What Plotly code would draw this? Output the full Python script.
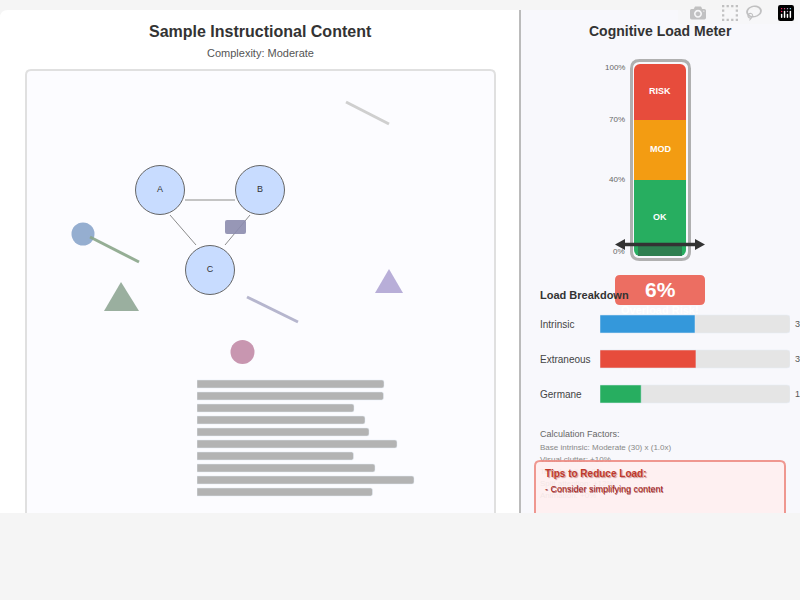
import plotly.graph_objects as go

FONT = 'Liberation Sans'

# text bars under the diagram (lengths in px on their own axis)
text_rows = list(range(1, 11))
text_widths = [187, 186.5, 157, 168, 172, 200, 156.5, 178, 217, 175.5]

# diagram
node_names = ['A', 'B', 'C']
node_x = [160, 260, 210]
node_y = [190, 190, 270]

# meter
zone_names = ['OK', 'MOD', 'RISK']
zone_sizes = [39.6, 31.2, 29.2]
zone_colors = ['#27ae60', '#f39c12', '#e74c3c']
meter_ticks = ['100%', '70%', '40%', '0%']
load_value = 6

# load breakdown
load_names = ['Intrinsic', 'Extraneous', 'Germane']
load_values = [30, 30.3, 13]
load_labels = ['30', '30', '13']
load_colors = ['#3498db', '#e74c3c', '#27ae60']
load_max = 60

factor_lines = ['Base intrinsic: Moderate (30) x (1.0x)', 'Visual clutter: +10%', 'Text density: +8%',
                'Split attention: +12%', 'Animation: +0%']


def ydom(top, bottom):
    return [1 - bottom / 600, 1 - top / 600]


def round_rect(x0, y0, x1, y1, r, tl=True, tr=True, br=True, bl=True):
    p = f'M {x0 + (r if tl else 0)} {y0} L {x1 - (r if tr else 0)} {y0} '
    if tr:
        p += f'Q {x1} {y0} {x1} {y0 + r} '
    p += f'L {x1} {y1 - (r if br else 0)} '
    if br:
        p += f'Q {x1} {y1} {x1 - r} {y1} '
    p += f'L {x0 + (r if bl else 0)} {y1} '
    if bl:
        p += f'Q {x0} {y1} {x0} {y1 - r} '
    p += f'L {x0} {y0 + (r if tl else 0)} '
    if tl:
        p += f'Q {x0} {y0} {x0 + r} {y0} '
    return p + 'Z'


fig = go.Figure()


def page_line(x, y, color, width):
    fig.add_trace(go.Scatter(x=x, y=y, mode='lines', line=dict(color=color, width=width),
                             hoverinfo='skip', xaxis='x', yaxis='y'))


def page_dot(x, y, size, color):
    fig.add_trace(go.Scatter(x=[x], y=[y], mode='markers', marker=dict(size=size, color=color, line=dict(width=0)),
                             hoverinfo='skip', xaxis='x', yaxis='y'))


def label(x, y, text, size, color, bold=False, anchor='left', shadow=None):
    fig.add_annotation(x=x, y=y, xref='x', yref='y', text=f'<b>{text}</b>' if bold else text, showarrow=False,
                       xanchor=anchor, yanchor='middle', borderpad=0, borderwidth=0,
                       font=dict(family=FONT, size=size, color=color, shadow=shadow or 'none'))


# edges + decorations
page_line([346, 389], [102, 124], '#cfcfcf', 3)
page_line([185, 235], [200, 200], '#c4c4c4', 2)
page_line([170, 196], [215, 245], '#8c8c8c', 1)
page_line([250, 225], [215, 245], '#8c8c8c', 1)
page_line([247, 298], [297, 322], '#b6b6ce', 3)
page_dot(83, 234, 23, '#95aed0')
page_line([90, 139], [237, 262], 'rgba(138,165,138,0.9)', 3)
page_dot(242.5, 352, 24, '#c896b0')

fig.add_trace(go.Scatter(x=[121, 139, 104, 121], y=[282, 311, 311, 282], mode='lines', fill='toself',
                         fillcolor='#9aaf9f', line=dict(width=0), hoverinfo='skip', xaxis='x', yaxis='y'))
fig.add_trace(go.Scatter(x=[389, 403, 375, 389], y=[269, 293, 293, 269], mode='lines', fill='toself',
                         fillcolor='#b8aed8', line=dict(width=0), hoverinfo='skip', xaxis='x', yaxis='y'))

fig.add_trace(go.Scatter(x=node_x, y=node_y, mode='markers+text', text=node_names, textposition='middle center',
                         textfont=dict(family=FONT, size=9, color='#333333'),
                         marker=dict(size=49, color='#c8dcff', line=dict(color='#666666', width=1)),
                         hoverinfo='skip', xaxis='x', yaxis='y'))

# text lines
fig.add_trace(go.Bar(x=text_widths, y=text_rows, orientation='h', width=8 / 12, marker=dict(color='#b3b3b3', cornerradius=2),
                     hoverinfo='skip', xaxis='x4', yaxis='y4'))

# meter zones; the two rounded end zones get a square bar behind so only the outer corners show round
base = 0
for name, size, color in zip(zone_names, zone_sizes, zone_colors):
    if name == 'OK':
        fig.add_trace(go.Bar(x=[0.5], y=[size / 2], base=[base + size / 2], width=52 / 90,
                             marker=dict(color=color, line=dict(width=0)), hoverinfo='skip', xaxis='x2', yaxis='y2'))
    if name == 'RISK':
        fig.add_trace(go.Bar(x=[0.5], y=[size / 2], base=[base], width=52 / 90,
                             marker=dict(color=color, line=dict(width=0)), hoverinfo='skip', xaxis='x2', yaxis='y2'))
    fig.add_trace(go.Bar(x=[0.5], y=[size], base=[base], width=52 / 90,
                         marker=dict(color=color, line=dict(width=0), cornerradius=0 if name == 'MOD' else 6),
                         hoverinfo='skip', xaxis='x2', yaxis='y2'))
    base += size
fig.add_trace(go.Bar(x=[0.5], y=[load_value], width=44 / 90, marker=dict(color='#2e7f50', line=dict(width=0)),
                     hoverinfo='skip', xaxis='x2', yaxis='y2'))
fig.add_trace(go.Scatter(x=[0.06, 0.94], y=[load_value, load_value], mode='lines', line=dict(color='#333333', width=3.5),
                         hoverinfo='skip', xaxis='x2', yaxis='y2', cliponaxis=False))

# breakdown bars
fig.add_trace(go.Bar(x=[load_max] * 3, y=load_names, orientation='h', width=18 / 35,
                     marker=dict(color='#e5e5e5', cornerradius=3), hoverinfo='skip', xaxis='x3', yaxis='y3'))
fig.add_trace(go.Bar(x=load_values, y=load_names, orientation='h', width=18 / 35,
                     marker=dict(color=load_colors, cornerradius=3), hoverinfo='skip', xaxis='x3', yaxis='y3'))

# factor lines sit under the tips box
fig.add_trace(go.Scatter(x=[540] * 5, y=[448, 460, 472, 484, 496], mode='text', text=factor_lines, textposition='middle right',
                         textfont=dict(family=FONT, size=8, color='#888888'), hoverinfo='skip', xaxis='x', yaxis='y'))

shapes = [
    dict(type='path', path=round_rect(0, 10, 519, 530, 8, tr=False, br=False, bl=False), fillcolor='#ffffff',
         line_width=0, layer='below'),
    dict(type='path', path=round_rect(521, 10, 800, 530, 8, tl=False, br=False, bl=False), fillcolor='#f8f8fc',
         line_width=0, layer='below'),
    dict(type='rect', x0=519, x1=521, y0=10, y1=530, fillcolor='#bbbbbb', line_width=0, layer='below'),
    dict(type='path', path=round_rect(26, 70, 495, 530, 5), fillcolor='#fcfcff', line=dict(color='#e0e0e0', width=2),
         layer='below'),
    dict(type='path', path=round_rect(631.5, 60.5, 689.5, 259.5, 8), fillcolor='#f8f8fc',
         line=dict(color='#b0b0b0', width=3), layer='below'),
    dict(type='path', path=round_rect(615, 275, 705, 305, 5), fillcolor='#ec6e62', line_width=0, layer='below'),
    dict(type='path', path=round_rect(225, 220, 246, 234, 2), fillcolor='#8c8cae', opacity=0.9, line_width=0, layer='above'),
    dict(type='path', path='M 615 244.5 L 625 239 L 625 250 Z', fillcolor='#333333', line_width=0, layer='above'),
    dict(type='path', path='M 705 244.5 L 695 239 L 695 250 Z', fillcolor='#333333', line_width=0, layer='above'),
    dict(type='path', path=round_rect(535, 461, 785, 530, 5), fillcolor='#fff0f0', opacity=0.9,
         line=dict(color='#ef8d85', width=2), layer='above'),
    dict(type='rect', x0=0, x1=800, y0=513, y1=600, fillcolor='#f5f5f5', line_width=0, layer='above'),
]

label(260, 31, 'Sample Instructional Content', 16, '#333333', bold=True, anchor='center')
label(260, 53, 'Complexity: Moderate', 11, '#555555', anchor='center')
label(660, 31, 'Cognitive Load Meter', 14, '#333333', bold=True, anchor='center')

for text, y in zip(meter_ticks, [67, 119, 179, 251]):
    label(625, y, text, 8, '#666666', anchor='right')
for text, y in zip(zone_names, [217, 149, 91]):
    label(660, y, text, 9, '#ffffff', bold=True, anchor='center')

label(660, 289, f'{load_value}%', 21, '#ffffff', bold=True, anchor='center')
label(660, 310, 'Overload Risk!', 11, '#ffffff', bold=True, anchor='center')
label(540, 295, 'Load Breakdown', 11, '#333333', bold=True)

for name, text, y in zip(load_names, load_labels, [324, 359, 394]):
    label(540, y, name, 10, '#444444')
    label(795, y, text, 9, '#555555')

label(540, 434, 'Calculation Factors:', 9, '#666666')
label(545, 473, 'Tips to Reduce Load:', 10, '#c0392b', bold=True, shadow='1px 1px 1px rgba(120,0,0,0.4)')
label(545, 489, '- Consider simplifying content', 9, '#a01818', bold=False, shadow='0.5px 0.5px 0.5px rgba(120,0,0,0.6)')

hidden = dict(visible=False, fixedrange=True)
fig.update_layout(
    width=800,
    height=600,
    margin=dict(l=0, r=0, t=0, b=0),
    paper_bgcolor='#f5f5f5',
    plot_bgcolor='rgba(0,0,0,0)',
    showlegend=False,
    barmode='overlay',
    font=dict(family=FONT),
    shapes=shapes,
    xaxis=dict(range=[0, 800], domain=[0, 1], **hidden),
    yaxis=dict(range=[600, 0], domain=[0, 1], **hidden),
    xaxis2=dict(range=[0, 1], domain=[615 / 800, 705 / 800], anchor='y2', **hidden),
    yaxis2=dict(range=[0, 100], domain=ydom(64, 256), anchor='x2', **hidden),
    xaxis3=dict(range=[0, load_max], domain=[600 / 800, 790 / 800], anchor='y3', **hidden),
    yaxis3=dict(autorange='reversed', domain=ydom(306.5, 411.5), anchor='x3', type='category', **hidden),
    xaxis4=dict(range=[0, 603], domain=[197 / 800, 1], anchor='y4', **hidden),
    yaxis4=dict(range=[10.5, 0.5], domain=ydom(378, 498), anchor='x4', **hidden),
)

# browser default body margin would shift the whole picture by 8px
fig.write_html("out.html", post_script="document.body.style.margin='0';window.dispatchEvent(new Event('resize'));")
